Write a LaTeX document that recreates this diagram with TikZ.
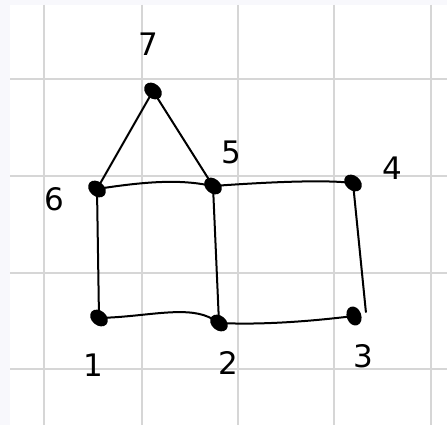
\documentclass[tikz,border=0pt]{standalone}
\usepackage{fontspec}
\setmainfont{DejaVu Sans}
\definecolor{outer}{HTML}{F8F8FC}
\definecolor{gridc}{HTML}{D6D6D6}
\tikzset{
  vtx/.style={circle, inner sep=0pt, minimum size=11pt},
  dot/.style={fill=black, draw=black, line width=1.5pt},
  lbl/.style={font=\fontsize{31}{33}\selectfont, inner sep=0pt},
  edge/.style={line width=2pt, line cap=round, shorten <=1pt, shorten >=1pt},
  gridline/.style={draw=gridc, line width=1.1pt}
}
\newcommand{\mydot}[2][-40]{\filldraw[dot, rotate around={#1:(#2)}] (#2) ellipse [x radius=9, y radius=6.5];}
\begin{document}
\begin{tikzpicture}[x=1pt,y=-1pt]
\useasboundingbox (0,0) rectangle (447,425);
\fill[outer] (0,0) rectangle (447,425);
\fill[white] (10,5) rectangle (447,425);
\foreach \x in {44,142,238,334,431} \draw[gridline] (\x,5) -- (\x,425);
\foreach \y in {79,176,273,369} \draw[gridline] (10,\y) -- (447,\y);
% vertices
\node[vtx] (v7) at (153,91) {};
\node[vtx] (v6) at (97,189) {};
\node[vtx] (v5) at (213,186) {};
\node[vtx] (v4) at (353,183) {};
\node[vtx] (v1) at (99,318) {};
\node[vtx] (v2) at (219,323) {};
\node[vtx] (v3) at (354,316) {};
\mydot{v7}\mydot{v6}\mydot{v5}\mydot{v4}\mydot{v1}\mydot{v2}\mydot[-70]{v3}
% labels
\node[lbl] (l7) at (148,44) {7};
\node[lbl] (l5) at (231,152) {5};
\node[lbl] (l4) at (392,168) {4};
\node[lbl] (l6) at (54,199) {6};
\node[lbl] (l1) at (93,365) {1};
\node[lbl] (l2) at (228,363) {2};
\node[lbl] (l3) at (363,356) {3};
% edges
\draw[edge] (v7) -- (v6);
\draw[edge, shorten >=-2pt] (v7) -- (v5);
\draw[edge] (v6) .. controls (150,181) and (180,180) .. (v5);
\draw[edge] (v5) .. controls (270,182) and (320,180) .. (v4);
\draw[edge] (v6) -- (v1);
\draw[edge, shorten >=-1pt] (v5) -- (v2);
\draw[edge] (v1) .. controls (150,316) and (190,305) .. (v2);
\draw[edge, shorten <=-1pt] (v2) .. controls (270,325) and (320,320) .. (v3);
\coordinate (e3) at (366,313);
\draw[edge] (v4) -- (e3);
\end{tikzpicture}
\end{document}
